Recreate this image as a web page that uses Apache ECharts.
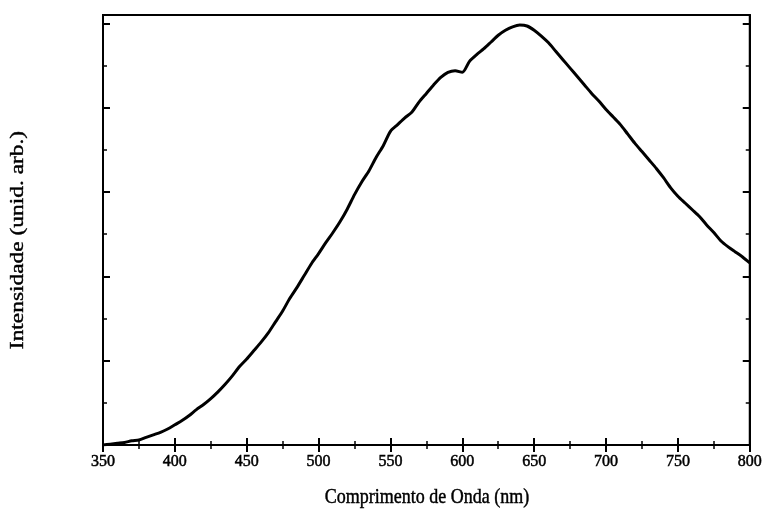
<!DOCTYPE html>
<html>
<head>
<meta charset="utf-8">
<script src="https://cdn.jsdelivr.net/npm/echarts@6/dist/echarts.min.js"></script>
<style>
  html, body { margin: 0; padding: 0; background: #fff; }
  #chart { width: 765px; height: 511px; }
</style>
</head>
<body>
<div id="chart"></div>
<script>
// Emission spectrum: wavelength (nm) vs intensity (arbitrary units)
const wavelengths = [
  350, 355, 360, 365, 370, 375, 380, 385, 390, 395,
  400, 405, 410, 415, 420, 425, 430, 435, 440, 445,
  450, 455, 460, 465, 470, 475, 480, 485, 490, 495,
  500, 505, 510, 515, 520, 525, 530, 535, 540, 545,
  550, 555, 560, 565, 570, 575, 580, 585, 590, 595,
  600, 605, 610, 615, 620, 625, 630, 635, 640, 645,
  650, 655, 660, 665, 670, 675, 680, 685, 690, 695,
  700, 705, 710, 715, 720, 725, 730, 735, 740, 745,
  750, 755, 760, 765, 770, 775, 780, 785, 790, 795,
  800
];
const intensity = [
  0.00, 0.01, 0.02, 0.03, 0.05, 0.06, 0.09, 0.12, 0.15, 0.19,
  0.24, 0.29, 0.35, 0.42, 0.48, 0.55, 0.63, 0.72, 0.82, 0.93,
  1.02, 1.12, 1.22, 1.33, 1.46, 1.59, 1.74, 1.87, 2.01, 2.15,
  2.27, 2.40, 2.52, 2.65, 2.80, 2.97, 3.12, 3.25, 3.41, 3.55,
  3.72, 3.80, 3.88, 3.95, 4.07, 4.17, 4.27, 4.36, 4.42, 4.44,
  4.42, 4.55, 4.63, 4.70, 4.78, 4.86, 4.92, 4.96, 4.98, 4.97,
  4.92, 4.85, 4.77, 4.67, 4.57, 4.47, 4.37, 4.27, 4.17, 4.08,
  3.98, 3.89, 3.80, 3.69, 3.58, 3.48, 3.38, 3.28, 3.17, 3.05,
  2.95, 2.87, 2.79, 2.71, 2.61, 2.52, 2.42, 2.35, 2.29, 2.23,
  2.16
];
const yTicks = [0, 1, 2, 3, 4, 5];
const xTitle = 'Comprimento de Onda (nm)';
const yTitle = 'Intensidade (unid. arb.)';

const FONT = '"Liberation Serif", "DejaVu Serif", serif';
const frameLine = () => ({ show: true, lineStyle: { color: '#000', width: 2 } });
const majorTick = (vals) => {
  const t = { show: true, inside: true, length: 7, lineStyle: { color: '#000', width: 2 } };
  if (vals) t.customValues = vals;
  return t;
};
const minorTick = () => ({ show: true, inside: true, length: 4, splitNumber: 2, lineStyle: { color: '#000', width: 1.5 } });

const chart = echarts.init(document.getElementById('chart'), null, { renderer: 'canvas' });
chart.setOption({
  animation: false,
  backgroundColor: '#fff',
  // grid border closes the frame on all four sides
  grid: { left: 103, right: 15, top: 15, bottom: 66, show: true, borderColor: '#000', borderWidth: 2, backgroundColor: 'transparent' },
  xAxis: [
    {
      type: 'value', min: 350, max: 800, interval: 50, position: 'bottom',
      axisLine: frameLine(), axisTick: majorTick(), minorTick: minorTick(),
      splitLine: { show: false },
      axisLabel: {
        color: '#000', fontFamily: FONT, fontSize: 16, margin: 9,
        textBorderColor: '#000', textBorderWidth: 0.5
      }
    },
    {
      type: 'value', min: 350, max: 800, interval: 50, position: 'top',
      axisLine: frameLine(), axisTick: majorTick(), minorTick: minorTick(),
      splitLine: { show: false }, axisLabel: { show: false }
    }
  ],
  yAxis: [
    {
      type: 'value', min: 0, max: 5.1, interval: 1, position: 'left',
      axisLine: frameLine(), axisTick: majorTick(yTicks), minorTick: minorTick(),
      splitLine: { show: false }, axisLabel: { show: false }
    },
    {
      type: 'value', min: 0, max: 5.1, interval: 1, position: 'right',
      axisLine: frameLine(), axisTick: majorTick(yTicks), minorTick: minorTick(),
      splitLine: { show: false }, axisLabel: { show: false }
    }
  ],
  graphic: [
    {
      type: 'text', x: 427, y: 498, scaleY: 1.15,
      style: {
        text: xTitle, font: '18px ' + FONT, fill: '#000',
        stroke: '#000', lineWidth: 0.4,
        textAlign: 'center', textVerticalAlign: 'middle'
      }
    },
    {
      type: 'text', x: 18, y: 240, rotation: Math.PI / 2, scaleX: 1.3,
      style: {
        text: yTitle, font: '18px ' + FONT, fill: '#000',
        stroke: '#000', lineWidth: 0.4,
        textAlign: 'center', textVerticalAlign: 'middle'
      }
    }
  ],
  series: [{
    type: 'line',
    data: wavelengths.map((w, i) => [w, intensity[i]]),
    showSymbol: false,
    smooth: 0.25,
    lineStyle: { color: '#000', width: 3 }
  }]
});
</script>
</body>
</html>
